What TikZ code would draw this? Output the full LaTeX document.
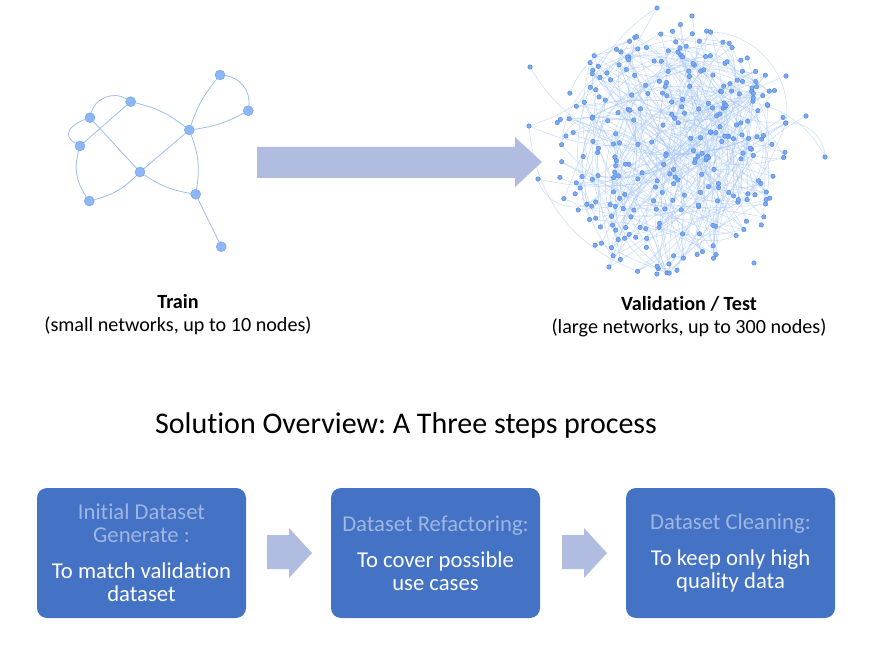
\documentclass[tikz,border=0pt]{standalone}
\usepackage{fontspec}
\setmainfont{Carlito}[Ligatures=NoCommon]
\usetikzlibrary{backgrounds}
\frenchspacing
\definecolor{boxblue}{HTML}{4472C4}
\definecolor{lighttxt}{HTML}{9FB6E3}
\definecolor{arrowc}{HTML}{B0BCE0}
\definecolor{dotfill}{HTML}{8DB6F5}
\definecolor{dotdraw}{HTML}{6F9FEB}
\definecolor{edgec}{HTML}{9CBEF2}
\definecolor{bdotfill}{HTML}{7AA9F2}
\definecolor{bdotdraw}{HTML}{4F86E3}
\definecolor{bedgec}{HTML}{A9C8F5}
\newcommand{\lt}[1]{\textcolor{lighttxt}{#1}}
\newcommand{\wt}[1]{\textcolor{white}{#1}}
\tikzset{
  smalldot/.style={circle,inner sep=0pt,minimum size=7.5pt,fill=dotfill,draw=dotdraw,line width=0.3pt},
  smalledge/.style={draw=edgec,line width=0.6pt},
  bigdot/.style={circle,inner sep=0pt,minimum size=3.4pt,fill=bdotfill,draw=bdotdraw,line width=0.3pt},
  bigedge/.style={draw=bedgec,line width=0.4pt,opacity=0.6},
  stepbox/.style={rounded corners=7.5pt,fill=boxblue,minimum width=156.75pt,minimum height=97.5pt,
    align=center,font=\fontsize{17}{17.25}\selectfont,inner sep=0pt},
  caption/.style={align=center,font=\fontsize{15.1}{17.25}\selectfont}
}
\begin{document}
\begin{tikzpicture}[x=0.75pt,y=-0.75pt]
\useasboundingbox (0,0) rectangle (875,652);
% ---------- small network ----------
\node[smalldot] (A) at (220,75) {};
\node[smalldot] (B) at (248.3,110.7) {};
\node[smalldot] (C) at (189.3,130) {};
\node[smalldot] (D) at (130.7,101.7) {};
\node[smalldot] (E) at (90,117.7) {};
\node[smalldot] (F) at (80,146) {};
\node[smalldot] (G) at (140,172) {};
\node[smalldot] (H) at (195.7,194.3) {};
\node[smalldot] (I) at (89.3,201) {};
\node[smalldot] (J) at (221.3,246.7) {};
\begin{scope}[on background layer]
\path[smalledge] (A) to[bend left=45] (B);
\path[smalledge] (A) to[bend right=10] (C);
\path[smalledge] (B) to[bend left=10] (C);
\path[smalledge] (D) to[bend left=12] (C);
\path[smalledge] (E) to[bend left=55] (D);
\path[smalledge] (E) to[out=200,in=150,looseness=1.6] (F);
\path[smalledge] (D) -- (F);
\path[smalledge] (E) -- (G);
\path[smalledge] (F) to[bend right=25] (I);
\path[smalledge] (I) to[bend right=15] (G);
\path[smalledge] (G) -- (C);
\path[smalledge] (G) to[bend right=12] (H);
\path[smalledge] (C) to[bend left=15] (H);
\path[smalledge] (H) -- (J);
\end{scope}
% ---------- big arrow ----------
\fill[arrowc] (257,147) -- (515,147) -- (515,137) -- (542,162) -- (515,187) -- (515,178) -- (257,178) -- cycle;
% ---------- large network ----------
\pgfmathsetseed{4711}
\foreach \i in {1,...,290}{
  \pgfmathsetmacro\ang{360*rnd}
  \pgfmathsetmacro\rad{sqrt(rnd)}
  \pgfmathsetmacro\px{670+120*\rad*cos(\ang)}
  \pgfmathsetmacro\py{150+126*\rad*sin(\ang)}
  \coordinate (n\i) at (\px,\py);
}
\coordinate (n291) at (530,67);
\coordinate (n292) at (529,126);
\coordinate (n293) at (538,179);
\coordinate (n294) at (825,157);
\coordinate (n295) at (786,76);
\coordinate (n296) at (806,116);
\coordinate (n297) at (609,267);
\coordinate (n298) at (657,8);
\coordinate (n299) at (692,16);
\coordinate (n300) at (754,263);
\foreach \k in {1,...,310}{
  \pgfmathtruncatemacro\a{random(1,300)}
  \pgfmathtruncatemacro\bb{random(1,300)}
  \pgfmathtruncatemacro\b{ifthenelse(\bb==\a,mod(\a,300)+1,\bb)}
  \pgfmathtruncatemacro\bd{random(-50,50)}
  \path[bigedge] (n\a) to[bend left=\bd] (n\b);
}
\foreach \i in {1,...,300}{
  \node[bigdot] (m\i) at (n\i) {};
}
% ---------- captions ----------
\node[caption] (train) at (178,315) {\textbf{Train}\\(small networks, up to 10 nodes)};
\node[caption] (valid) at (689,317) {\textbf{Validation / Test}\\(large networks, up to 300 nodes)};
\node[font=\fontsize{22.5}{26}\selectfont] (title) at (406,426) {Solution Overview: A Three steps process};
% ---------- boxes ----------
\node[stepbox] (b1) at (141.5,553) {\lt{Initial Dataset}\\\lt{Generate :}\\[10pt]\wt{To match validation}\\\wt{dataset}};
\node[stepbox] (b2) at (435.5,553) {\lt{Dataset Refactoring:}\\[10pt]\wt{To cover possible}\\\wt{use cases}};
\node[stepbox] (b3) at (730.5,553) {\lt{Dataset Cleaning:}\\[10pt]\wt{To keep only high}\\\wt{quality data}};
% ---------- small block arrows ----------
\fill[arrowc] (267,535) -- (289,535) -- (289,528) -- (312,553) -- (289,578) -- (289,569) -- (267,569) -- cycle;
\fill[arrowc] (562,535) -- (584,535) -- (584,528) -- (607,553) -- (584,578) -- (584,569) -- (562,569) -- cycle;
\end{tikzpicture}
\end{document}
